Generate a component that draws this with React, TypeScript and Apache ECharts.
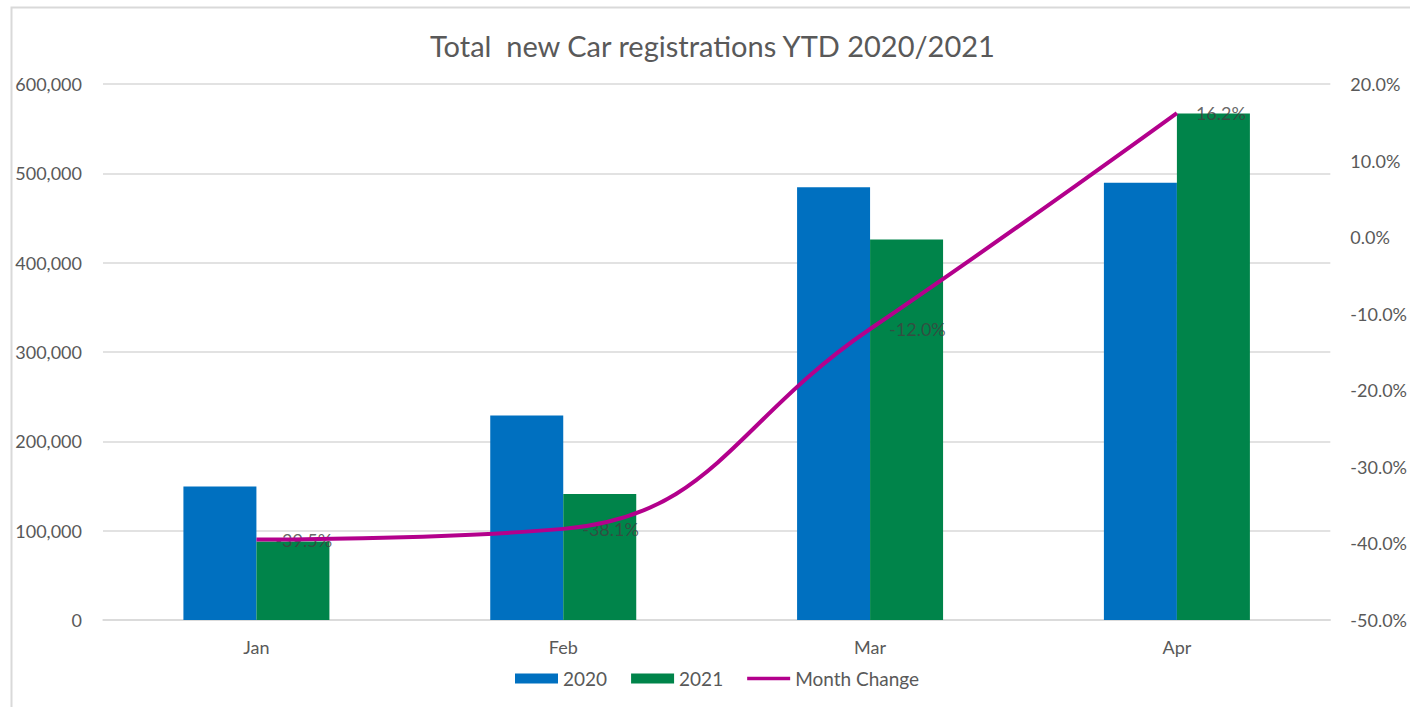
import React, { useEffect, useRef } from "react";
import * as echarts from "echarts";

const categories = ["Jan", "Feb", "Mar", "Apr"];
const values2020 = [149500, 229000, 484500, 489500];
const values2021 = [88000, 141000, 426000, 567000];
const monthChange = [-39.5, -38.1, -12.0, 16.2];
const seriesNames = ["2020", "2021", "Month Change"];
const title = "Total  new Car registrations YTD 2020/2021";

const FONT = "Lato, 'Open Sans', sans-serif";
const GREY = "#595959";
const LINE_ICON = "path://M0,0 L0.01,0 Z M0,3 L48,3 L48,7 L0,7 Z M0,10 L0.01,10 Z";

export default function App() {
  const ref = useRef<HTMLDivElement>(null);
  useEffect(() => {
    if (!ref.current) return;
    const chart = echarts.init(ref.current, undefined, { renderer: "svg" });
    chart.setOption({
      animation: false,
      backgroundColor: "#ffffff",
      textStyle: { fontFamily: FONT },
      title: {
        text: title,
        left: 425,
        top: 26,
        textStyle: { fontFamily: FONT, fontSize: 29, fontWeight: "normal", color: GREY },
      },
      graphic: [
        {
          type: "rect",
          shape: { x: 11.5, y: 7.5, width: 1420, height: 720 },
          style: { fill: "none", stroke: "#D9D9D9", lineWidth: 2 },
          silent: true,
        },
      ],
      legend: {
        bottom: 14,
        left: 510,
        itemWidth: 43,
        itemHeight: 10,
        itemGap: 24,
        textStyle: { fontFamily: FONT, fontSize: 19, color: GREY },
        data: [
          { name: seriesNames[0], icon: "rect" },
          { name: seriesNames[1], icon: "rect" },
          { name: seriesNames[2], icon: LINE_ICON, itemStyle: { color: "#B3008C" } },
        ],
      },
      grid: { left: 103, right: 76, top: 84, bottom: 87, containLabel: false },
      xAxis: {
        type: "category",
        data: categories,
        axisLine: { lineStyle: { color: "#D9D9D9", width: 1.5 } },
        axisTick: { show: false },
        axisLabel: { fontFamily: FONT, fontSize: 18, color: GREY, margin: 18 },
      },
      yAxis: [
        {
          type: "value",
          min: 0,
          max: 600000,
          interval: 100000,
          axisLine: { show: false },
          axisTick: { show: false },
          splitLine: { lineStyle: { color: "#D9D9D9", width: 1.5 } },
          axisLabel: {
            fontFamily: FONT,
            fontSize: 18,
            color: GREY,
            margin: 21,
            formatter: (v: number) => v.toLocaleString("en-US"),
          },
        },
        {
          type: "value",
          min: -50,
          max: 20,
          interval: 10,
          axisLine: { show: false },
          axisTick: { show: false },
          splitLine: { show: false },
          axisLabel: {
            fontFamily: FONT,
            fontSize: 18,
            color: GREY,
            margin: 20,
            formatter: (v: number) => `${v.toFixed(1)}%`,
          },
        },
      ],
      series: [
        {
          name: seriesNames[0],
          type: "bar",
          data: values2020,
          barWidth: 73,
          barGap: "0%",
          itemStyle: { color: "#0070C0" },
        },
        {
          name: seriesNames[1],
          type: "bar",
          data: values2021,
          barWidth: 73,
          barGap: "0%",
          itemStyle: { color: "#00844A" },
        },
        {
          name: seriesNames[2],
          type: "line",
          yAxisIndex: 1,
          data: monthChange,
          smooth: 0.45,
          symbol: "none",
          lineStyle: { color: "#B3008C", width: 4 },
          itemStyle: { color: "#B3008C" },
          z: 5,
        },
        {
          name: "Month Change labels",
          type: "scatter",
          yAxisIndex: 1,
          data: monthChange,
          symbolSize: 2,
          itemStyle: { color: "rgba(0,0,0,0)" },
          label: {
            show: true,
            position: "right",
            distance: 18,
            fontFamily: FONT,
            fontSize: 18,
            color: "#404040",
            formatter: (p: any) => `${Number(p.value).toFixed(1)}%`,
          },
          z: 4,
        },
      ],
    });
    return () => chart.dispose();
  }, []);
  return (
    <div
      ref={ref}
      style={{ position: "absolute", left: 0, top: 0, width: 1410, height: 707 }}
    />
  );
}
